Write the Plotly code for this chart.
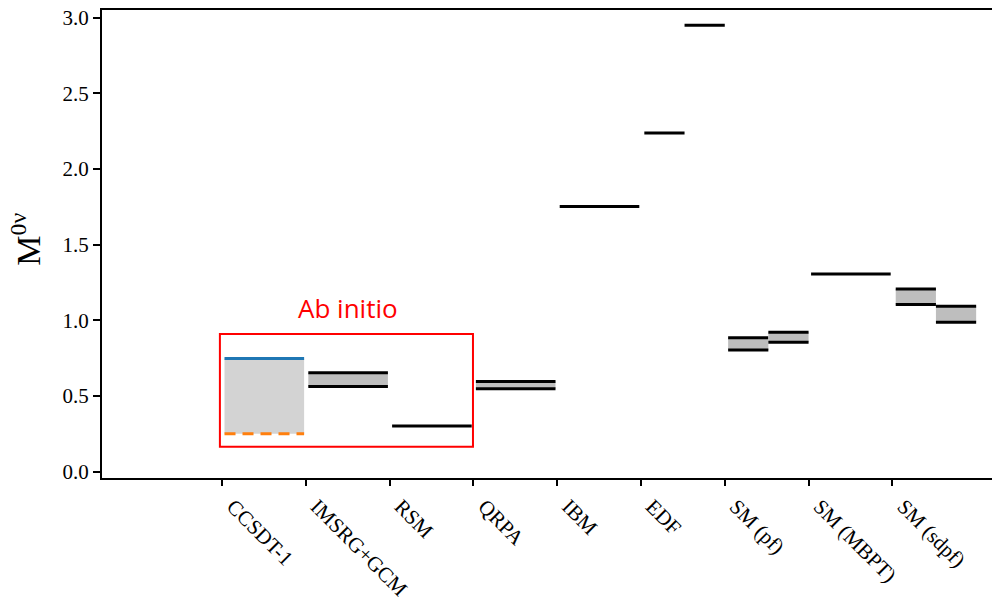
import plotly.graph_objects as go

# ---- data ----
categories = ["CCSDT-1", "IMSRG+GCM", "RSM", "QRPA", "IBM", "EDF",
              "SM (pf)", "SM (MBPT)", "SM (sdpf)"]

# CCSDT-1 band (ab initio)
ccsdt_upper = 0.747
ccsdt_lower = 0.251

# other calculations: category, part (0 = full width, 1 = first half, 2 = second half), low, high
seg_cat = ["IMSRG+GCM", "RSM", "QRPA", "IBM", "EDF", "EDF",
           "SM (pf)", "SM (pf)", "SM (MBPT)", "SM (sdpf)", "SM (sdpf)"]
seg_part = [0, 0, 0, 0, 1, 2, 1, 2, 0, 1, 2]
seg_low = [0.562, 0.302, 0.547, 1.752, 2.237, 2.950, 0.804, 0.855, 1.305, 1.104, 0.987]
seg_high = [0.654, 0.302, 0.595, 1.752, 2.237, 2.950, 0.884, 0.921, 1.305, 1.207, 1.093]

y_ticks = [0.0, 0.5, 1.0, 1.5, 2.0, 2.5, 3.0]

SERIF = "Liberation Serif"


def span(idx, part):
    if part == 0:
        return idx + 0.03, idx + 0.98
    if part == 1:
        return idx + 0.04, idx + 0.52
    return idx + 0.52, idx + 1.0


fig = go.Figure()

# CCSDT-1
x0, x1 = span(categories.index("CCSDT-1"), 0)
fig.add_trace(go.Scatter(x=[x0, x1, x1, x0, x0],
                         y=[ccsdt_lower, ccsdt_lower, ccsdt_upper, ccsdt_upper, ccsdt_lower],
                         fill="toself", fillcolor="#d3d3d3", line=dict(width=0),
                         mode="lines", hoverinfo="skip", showlegend=False))
fig.add_trace(go.Scatter(x=[x0, x1], y=[ccsdt_upper, ccsdt_upper], mode="lines",
                         line=dict(color="#1f77b4", width=3), showlegend=False))
fig.add_trace(go.Scatter(x=[x0, x1], y=[ccsdt_lower, ccsdt_lower], mode="lines",
                         line=dict(color="#ff7f0e", width=3, dash="11px,7px"),
                         showlegend=False))

# other methods
for c, p, lo, hi in zip(seg_cat, seg_part, seg_low, seg_high):
    a, b = span(categories.index(c), p)
    if hi > lo:
        fig.add_trace(go.Scatter(x=[a, b, b, a, a], y=[lo, lo, hi, hi, lo],
                                 fill="toself", fillcolor="#bebebe", line=dict(width=0),
                                 mode="lines", hoverinfo="skip", showlegend=False))
        fig.add_trace(go.Scatter(x=[a, b], y=[hi, hi], mode="lines",
                                 line=dict(color="black", width=3), showlegend=False))
    fig.add_trace(go.Scatter(x=[a, b], y=[lo, lo], mode="lines",
                             line=dict(color="black", width=3), showlegend=False))

# Ab initio box
fig.add_shape(type="rect", xref="x", yref="y", x0=-0.025, x1=2.995, y0=0.165, y1=0.91,
              line=dict(color="red", width=2), fillcolor="rgba(0,0,0,0)")
fig.add_annotation(x=1.504, y=1.08, xref="x", yref="y", text="Ab initio",
                   showarrow=False, font=dict(family="Open Sans", size=26, color="red"),
                   xanchor="center", yanchor="middle")

# y title
fig.add_annotation(x=-0.085, y=0.51, xref="paper", yref="paper",
                   text="M<sup>0ν</sup>", showarrow=False, textangle=-90,
                   font=dict(family=SERIF, size=34, color="black"),
                   xanchor="center", yanchor="middle")

fig.update_layout(
    width=992, height=604,
    margin=dict(l=102, r=0, t=10, b=126),
    plot_bgcolor="white", paper_bgcolor="white",
    showlegend=False,
    xaxis=dict(range=[-1.432, 9.189], tickvals=list(range(len(categories))),
               ticktext=categories, tickangle=45,
               tickfont=dict(family=SERIF, size=21, color="black"),
               ticklabelshift=11, automargin=False,
               showline=True, linecolor="black", linewidth=2, mirror=True,
               ticks="outside", ticklen=6, tickwidth=1.5, tickcolor="black",
               showgrid=False, zeroline=False),
    yaxis=dict(range=[-0.042, 3.05], tickvals=y_ticks,
               ticktext=[f"{v:.1f}" for v in y_ticks],
               tickfont=dict(family=SERIF, size=21, color="black"),
               automargin=False,
               showline=True, linecolor="black", linewidth=2, mirror=False,
               ticks="outside", ticklen=7, tickwidth=1.5, tickcolor="black",
               showgrid=False, zeroline=False),
)

fig.write_html("out.html")
